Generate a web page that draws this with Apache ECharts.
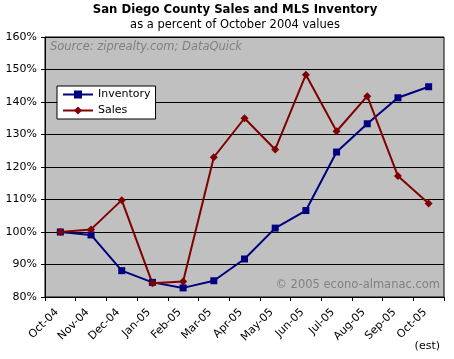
<!DOCTYPE html>
<html>
<head>
<meta charset="utf-8">
<script src="https://cdn.jsdelivr.net/npm/echarts@6/dist/echarts.min.js"></script>
<style>html,body{margin:0;padding:0;background:#fff}#c{width:454px;height:359px}</style>
</head>
<body>
<div id="c"></div>
<script>
const categories = ['Oct-04','Nov-04','Dec-04','Jan-05','Feb-05','Mar-05','Apr-05','May-05','Jun-05','Jul-05','Aug-05','Sep-05','Oct-05'];
const inventory = [100, 99.1, 88.1, 84.5, 82.8, 85.0, 91.7, 101.2, 106.6, 124.6, 133.3, 141.3, 144.7];
const sales = [100, 100.8, 109.8, 84.2, 84.8, 123.0, 135.0, 125.4, 148.4, 131.0, 141.8, 117.2, 108.8];
const yMin = 80, yMax = 160, yStep = 10;

const font = '"DejaVu Sans", Verdana, sans-serif';
const titleFont = '"DejaVu Sans Condensed", "DejaVu Sans", Tahoma, sans-serif';
const chart = echarts.init(document.getElementById('c'), null, {renderer: 'canvas'});
chart.setOption({
  backgroundColor: '#ffffff',
  animation: false,
  title: [
    {text: 'San Diego County Sales and MLS Inventory', left: 235, textAlign: 'center', top: 3, padding: 0,
     textStyle: {fontFamily: titleFont, fontSize: 13, fontWeight: 'bold', color: '#000'}},
    {text: 'as a percent of October 2004 values', left: 235, textAlign: 'center', top: 19, padding: 0,
     textStyle: {fontFamily: font, fontSize: 11.5, fontWeight: 'normal', color: '#000'}},
    {text: 'Source: ziprealty.com; DataQuick', left: 50, top: 41, padding: 0,
     textStyle: {fontFamily: font, fontSize: 11.5, fontStyle: 'italic', fontWeight: 'normal', color: '#808080'}},
    {text: '© 2005 econo-almanac.com', right: 14, top: 279, padding: 0,
     textStyle: {fontFamily: font, fontSize: 11.5, fontWeight: 'normal', color: '#808080'}},
    {text: '(est)', right: 14, top: 341, padding: 0,
     textStyle: {fontFamily: font, fontSize: 11, fontWeight: 'normal', color: '#000'}}
  ],
  legend: {
    orient: 'vertical', left: 57, top: 86,
    backgroundColor: '#ffffff', borderColor: '#000', borderWidth: 1,
    padding: [3, 5, 3, 5], itemGap: 5, itemWidth: 30, itemHeight: 10,
    textStyle: {fontFamily: font, fontSize: 11, color: '#000'},
    data: ['Inventory', 'Sales']
  },
  grid: {left: 45, right: 10, top: 37, bottom: 62, show: true, backgroundColor: '#C0C0C0', borderColor: '#000', borderWidth: 1},
  xAxis: {
    type: 'category', data: categories, boundaryGap: true,
    axisLine: {lineStyle: {color: '#000'}},
    axisTick: {show: true, length: 4, lineStyle: {color: '#000'}},
    axisLabel: {rotate: 45, fontFamily: font, fontSize: 11, color: '#000', margin: 10, interval: 0, padding: [0, 5, 0, 0]}
  },
  yAxis: {
    type: 'value', min: yMin, max: yMax, interval: yStep,
    axisLine: {show: true, lineStyle: {color: '#000'}},
    axisTick: {show: true, length: 4, lineStyle: {color: '#000'}},
    splitLine: {lineStyle: {color: '#000', width: 1}},
    axisLabel: {formatter: '{value}%', fontFamily: font, fontSize: 11, color: '#000', margin: 8}
  },
  series: [
    {name: 'Inventory', type: 'line', data: inventory, symbol: 'rect', symbolSize: 7,
     lineStyle: {color: '#000080', width: 2}, itemStyle: {color: '#000080'}},
    {name: 'Sales', type: 'line', data: sales, symbol: 'diamond', symbolSize: 8,
     lineStyle: {color: '#800000', width: 2}, itemStyle: {color: '#800000'}}
  ]
});
</script>
</body>
</html>
